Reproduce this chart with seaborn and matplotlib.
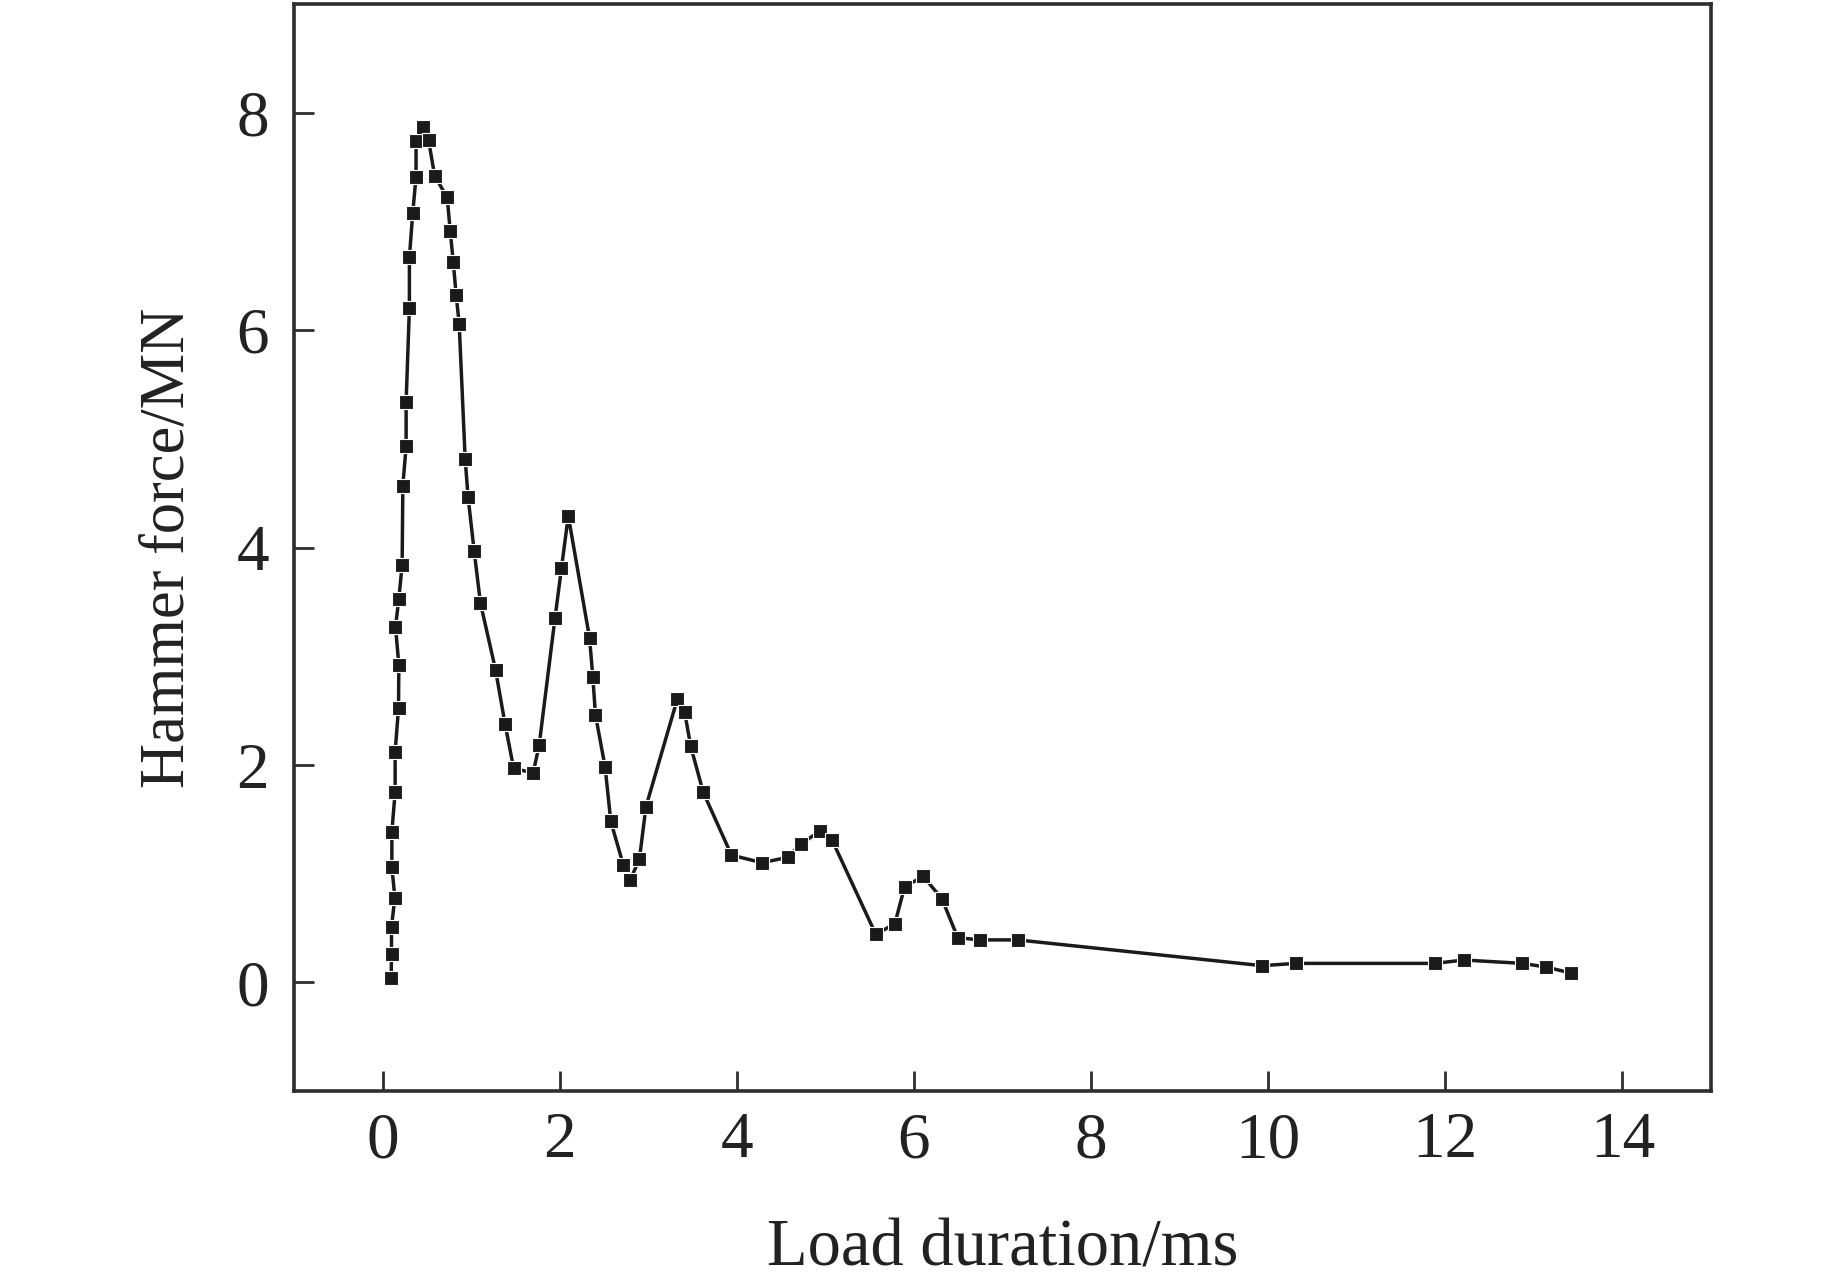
import matplotlib
matplotlib.use("Agg")
import matplotlib.pyplot as plt
import seaborn as sns
import pandas as pd

# Load duration (ms) and hammer force (MN), in time order
load_duration = [0.097, 0.101, 0.101, 0.139, 0.105, 0.105, 0.142, 0.142, 0.180, 0.184,
                 0.146, 0.184, 0.221, 0.229, 0.266, 0.266, 0.303, 0.303, 0.341, 0.378,
                 0.378, 0.453, 0.520, 0.588, 0.730, 0.764, 0.798, 0.831, 0.865, 0.933,
                 0.966, 1.034, 1.105, 1.277, 1.382, 1.480, 1.700, 1.768, 1.947, 2.020,
                 2.097, 2.337, 2.374, 2.404, 2.513, 2.577, 2.720, 2.794, 2.900, 2.974,
                 3.330, 3.410, 3.480, 3.620, 3.940, 4.285, 4.575, 4.720, 4.935, 5.075,
                 5.570, 5.785, 5.895, 6.105, 6.315, 6.495, 6.750, 7.170, 9.930, 10.310,
                 11.880, 12.210, 12.870, 13.140, 13.420]
hammer_force = [0.04, 0.26, 0.51, 0.78, 1.06, 1.385, 1.75, 2.12, 2.52, 2.92,
                3.27, 3.53, 3.84, 4.57, 4.93, 5.34, 6.20, 6.67, 7.08, 7.41,
                7.74, 7.865, 7.745, 7.42, 7.22, 6.91, 6.63, 6.32, 6.06, 4.81,
                4.46, 3.97, 3.49, 2.87, 2.38, 1.97, 1.925, 2.18, 3.35, 3.81,
                4.29, 3.17, 2.81, 2.46, 1.98, 1.48, 1.075, 0.94, 1.13, 1.615,
                2.61, 2.49, 2.17, 1.75, 1.17, 1.10, 1.15, 1.27, 1.39, 1.31,
                0.44, 0.54, 0.88, 0.974, 0.77, 0.41, 0.39, 0.39, 0.153, 0.174,
                0.174, 0.205, 0.174, 0.14, 0.085]
x_ticks = [0, 2, 4, 6, 8, 10, 12, 14]
y_ticks = [0, 2, 4, 6, 8]

df = pd.DataFrame({"t": load_duration, "f": hammer_force})

sns.set_style("ticks")
plt.rcParams["font.family"] = ["Liberation Serif", "DejaVu Serif"]

fig = plt.figure(figsize=(18.43, 12.79), dpi=100)
ax = fig.add_axes([294 / 1843, 1 - 1091 / 1279, (1711 - 294) / 1843, (1091 - 4) / 1279])

sns.lineplot(data=df, x="t", y="f", sort=False, estimator=None, ax=ax,
             color="#1a1a1a", linewidth=2.5, marker="s", markersize=9.8,
             markeredgecolor="white", markeredgewidth=0.8, markerfacecolor="#1a1a1a")

ax.set_xlim(-1, 15)
ax.set_ylim(-1, 9)
ax.set_xticks(x_ticks)
ax.set_yticks(y_ticks)
ax.set_xticklabels([str(v) for v in x_ticks])
ax.set_yticklabels([str(v) for v in y_ticks])

for s in ax.spines.values():
    s.set_visible(True)
    s.set_linewidth(2.6)
    s.set_color("#2e2e2e")

ax.tick_params(axis="both", direction="in", length=14.5, width=2.0, color="#2e2e2e",
               labelsize=47, labelcolor="#222222", top=False, right=False)
ax.tick_params(axis="x", pad=15)
ax.tick_params(axis="y", pad=18)

ax.set_xlabel("Load duration/ms", fontsize=48, color="#222222", labelpad=34)
ax.set_ylabel("Hammer force/MN", fontsize=45, color="#222222", labelpad=28)

fig.savefig("out.png", dpi=100, facecolor="white")
